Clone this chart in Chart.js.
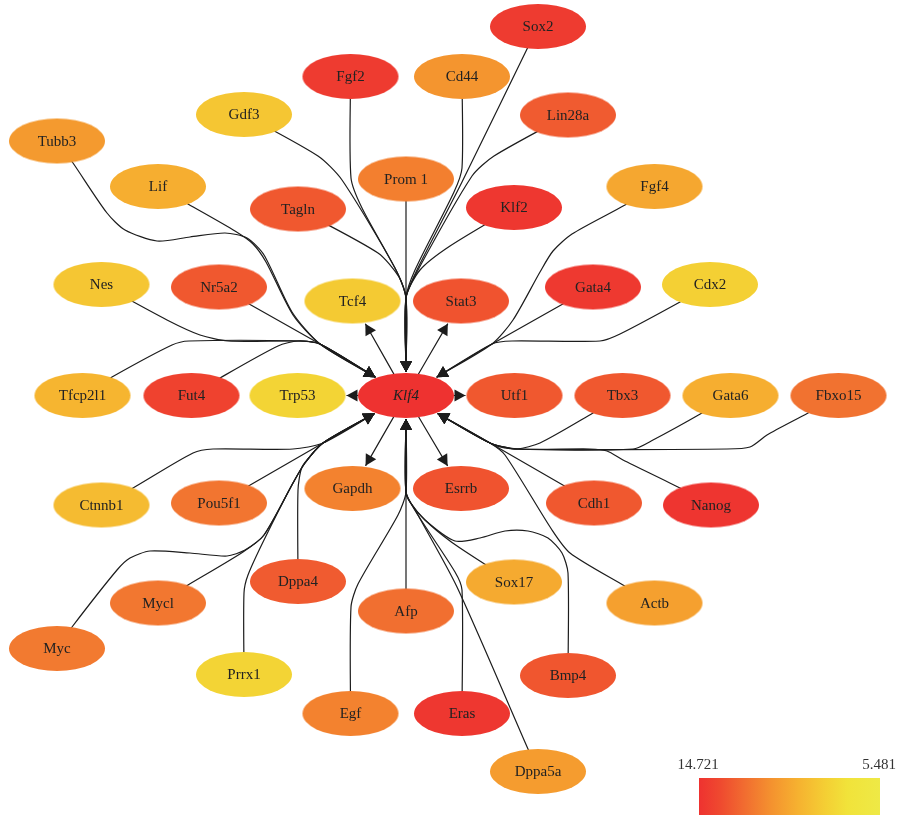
<!DOCTYPE html>
<html>
<head>
<meta charset="utf-8">
<script src="https://cdn.jsdelivr.net/npm/chart.js@4/dist/chart.umd.min.js"></script>
<style>
  html, body { margin: 0; padding: 0; background: #ffffff; }
  canvas { display: block; }
</style>
</head>
<body>
<canvas id="net" width="898" height="815"></canvas>
<script>
// ---- network data ----
const geneNames = ['Klf4', 'Sox2', 'Fgf2', 'Cd44', 'Gdf3', 'Lin28a', 'Tubb3', 'Lif', 'Prom 1', 'Tagln', 'Klf2', 'Fgf4',
  'Nes', 'Nr5a2', 'Tcf4', 'Stat3', 'Gata4', 'Cdx2', 'Tfcp2l1', 'Fut4', 'Trp53', 'Utf1', 'Tbx3', 'Gata6', 'Fbxo15',
  'Ctnnb1', 'Pou5f1', 'Gapdh', 'Esrrb', 'Cdh1', 'Nanog', 'Dppa4', 'Mycl', 'Sox17', 'Actb', 'Afp', 'Myc', 'Prrx1',
  'Bmp4', 'Egf', 'Eras', 'Dppa5a'];
// layout coordinates (x to the right, y downwards)
const geneX = [406, 538, 350.5, 462, 244, 568, 57, 158, 406, 298, 514, 654.5,
  101.5, 219, 352.5, 461, 593, 710, 82.5, 191.5, 297.5, 514.5, 622.5, 730.5, 838.5,
  101.5, 219, 352.5, 461, 594, 711, 298, 158, 514, 654.5, 406, 57, 244,
  568, 350.5, 462, 538];
const geneY = [395.5, 26.5, 76.5, 76.5, 114.5, 115, 141, 186.5, 179, 209, 207.5, 186.5,
  284.5, 287, 301, 301, 287, 284.5, 395.5, 395.5, 395.5, 395.5, 395.5, 395.5, 395.5,
  505, 503, 488.5, 488.5, 503, 505, 581.5, 603, 582, 603, 611, 648.5, 674.5,
  675.5, 713.5, 713.5, 771.5];
// degree score used for the fill colour
const geneScore = [14.721, 14.3, 14.3, 10.9, 8.7, 13.0, 10.7, 9.8, 11.7, 13.1, 14.5, 10.1,
  8.7, 13.1, 8.5, 13.3, 14.4, 8.2, 9.5, 14.0, 8.0, 13.1, 13.1, 9.8, 12.2,
  9.2, 12.1, 11.6, 13.3, 13.1, 14.6, 13.0, 12.0, 10.0, 10.4, 12.3, 11.9, 8.0,
  13.2, 11.6, 14.5, 10.6];

const hubGene = 'Klf4';
const edgeFrom = ['Prom 1', 'Fgf2', 'Gdf3', 'Tagln', 'Cd44', 'Sox2', 'Lin28a', 'Klf2',
  'Nr5a2', 'Nes', 'Tfcp2l1', 'Fut4', 'Tubb3', 'Lif',
  'Gata4', 'Cdx2', 'Fgf4',
  'Cdh1', 'Tbx3', 'Gata6', 'Fbxo15', 'Nanog', 'Actb',
  'Afp', 'Egf', 'Eras', 'Dppa5a', 'Sox17', 'Bmp4',
  'Pou5f1', 'Ctnnb1', 'Dppa4', 'Prrx1', 'Mycl', 'Myc',
  'Klf4', 'Klf4', 'Klf4', 'Klf4', 'Klf4', 'Klf4'];
const edgeTo = ['Klf4', 'Klf4', 'Klf4', 'Klf4', 'Klf4', 'Klf4', 'Klf4', 'Klf4',
  'Klf4', 'Klf4', 'Klf4', 'Klf4', 'Klf4', 'Klf4',
  'Klf4', 'Klf4', 'Klf4',
  'Klf4', 'Klf4', 'Klf4', 'Klf4', 'Klf4', 'Klf4',
  'Klf4', 'Klf4', 'Klf4', 'Klf4', 'Klf4', 'Klf4',
  'Klf4', 'Klf4', 'Klf4', 'Klf4', 'Klf4', 'Klf4',
  'Tcf4', 'Stat3', 'Trp53', 'Utf1', 'Gapdh', 'Esrrb'];
// bundled edge routing: bend points between source and target
const edgeBends = [
  [],
  [[351, 178], [362, 208], [397, 272], [406, 298]],
  [[318, 156], [342, 180], [395, 268], [406, 298]],
  [[378, 253], [399, 277], [406, 298]],
  [[462, 168], [454, 192], [415, 270], [406, 298]],
  [[462, 182], [416, 272], [406, 298]],
  [[494, 156], [472, 176], [418, 270], [406, 298]],
  [[450, 246], [420, 270], [406, 298]],
  [[320, 344]],
  [[167, 320], [200, 335], [228, 341], [300, 341], [320, 344]],
  [[112, 377], [172, 345], [189, 341], [300, 341], [320, 344]],
  [[220, 378], [278, 346], [298, 341], [320, 344]],
  [[73, 163], [107, 213], [125, 230], [157, 241], [190, 237], [225, 233], [247, 238], [264, 255], [292, 312], [320, 344]],
  [[188, 204], [235, 231], [253, 244], [266, 262], [293, 315], [320, 344]],
  [[492, 344]],
  [[680, 302], [620, 334], [600, 341], [512, 341], [492, 344]],
  [[625, 205], [572, 234], [553, 251], [540, 272], [513, 320], [492, 344]],
  [[490, 443]],
  [[593, 413], [540, 443], [517, 449], [500, 447], [490, 443]],
  [[702, 413], [653, 440], [633, 449], [517, 449], [490, 443]],
  [[808, 413], [767, 435], [750, 447], [727, 449], [517, 449], [490, 443]],
  [[680, 488], [623, 460], [607, 451], [590, 449], [517, 449], [490, 443]],
  [[623, 585], [570, 553], [552, 530], [505, 455], [490, 443]],
  [],
  [[351, 607], [358, 584], [398, 515], [406, 492]],
  [[462, 590], [455, 572], [416, 512], [406, 492]],
  [[528, 749], [457, 587], [418, 515], [406, 492]],
  [[483, 563], [450, 541], [425, 520], [410, 502], [406, 492]],
  [[568, 573], [562, 553], [548, 538], [528, 531], [505, 531], [480, 538], [455, 541], [425, 520], [410, 502], [406, 492]],
  [[323, 443]],
  [[133, 488], [193, 453], [213, 449], [293, 449], [323, 443]],
  [[298, 490], [302, 467], [313, 453], [323, 443]],
  [[244, 593], [248, 575], [264, 540], [293, 483], [305, 463], [323, 443]],
  [[188, 585], [243, 552], [264, 535], [293, 483], [305, 463], [323, 443]],
  [[72, 627], [117, 570], [130, 558], [150, 551], [190, 553], [227, 556], [245, 550], [264, 535], [293, 483], [305, 463], [323, 443]],
  [], [], [], [], [], []
];

const scoreRange = [14.721, 5.481];
const scoreLabels = ['14.721', '5.481'];

// ---- styling ----
const rampStops = [0, 0.12, 0.25, 0.4, 0.55, 0.7, 0.82, 1];
const rampColors = ['#ee3230', '#ef4a2f', '#f16c30', '#f4922f', '#f6b230', '#f4cf34', '#f1e33a', '#eee946'];
const NODE_RX = 48, NODE_RY = 22.5;
const LABEL_FONT = '15px "Liberation Serif", "DejaVu Serif", serif';
const EDGE_COLOR = '#1c1c1c';

function hexToRgb(h) {
  const n = parseInt(h.slice(1), 16);
  return [(n >> 16) & 255, (n >> 8) & 255, n & 255];
}
function rampAt(t) {
  t = Math.max(0, Math.min(1, t));
  for (let i = 1; i < rampStops.length; i++) {
    if (t <= rampStops[i]) {
      const f = (t - rampStops[i - 1]) / (rampStops[i] - rampStops[i - 1]);
      const a = hexToRgb(rampColors[i - 1]), b = hexToRgb(rampColors[i]);
      const c = a.map((v, k) => Math.round(v + (b[k] - v) * f));
      return `rgb(${c[0]},${c[1]},${c[2]})`;
    }
  }
  return rampColors[rampColors.length - 1];
}
function scoreColor(s) {
  return rampAt((scoreRange[0] - s) / (scoreRange[0] - scoreRange[1]));
}

// ellipse sprite for each gene, used as the point style
function ellipseSprite(color) {
  const c = document.createElement('canvas');
  c.width = 2 * NODE_RX + 4;
  c.height = 2 * NODE_RY + 4;
  const g = c.getContext('2d');
  g.fillStyle = color;
  g.beginPath();
  g.ellipse(c.width / 2, c.height / 2, NODE_RX, NODE_RY, 0, 0, Math.PI * 2);
  g.fill();
  return c;
}

const idx = name => geneNames.indexOf(name);

// point where a segment heading to a node centre meets the node's outline
function outlineHit(from, to) {
  const dx = to[0] - from[0], dy = to[1] - from[1];
  const u = 1 / Math.sqrt((dx / (NODE_RX + 1)) ** 2 + (dy / (NODE_RY + 1)) ** 2);
  return [to[0] - dx * u, to[1] - dy * u];
}

const edgeDatasets = edgeFrom.map((src, e) => {
  const s = idx(src), t = idx(edgeTo[e]);
  const pts = [[geneX[s], geneY[s]], ...edgeBends[e]];
  const tip = outlineHit(pts[pts.length - 1], [geneX[t], geneY[t]]);
  pts.push(tip);
  return {
    label: src + ' → ' + edgeTo[e],
    data: pts.map(p => ({ x: p[0], y: p[1] })),
    showLine: true,
    tension: 0.25,
    borderColor: EDGE_COLOR,
    borderWidth: 1.2,
    pointRadius: 0,
    pointHoverRadius: 0,
    fill: false,
    order: 1,
    isEdge: true
  };
});

const nodeDataset = {
  label: 'genes',
  data: geneNames.map((n, i) => ({ x: geneX[i], y: geneY[i] })),
  pointStyle: geneScore.map(s => ellipseSprite(scoreColor(s))),
  pointRadius: 10,
  pointHoverRadius: 10,
  order: 0,
  isEdge: false
};

// arrowheads at the end of each edge
const arrowPlugin = {
  id: 'arrowheads',
  afterDatasetsDraw(chart) {
    const ctx = chart.ctx;
    ctx.save();
    ctx.fillStyle = EDGE_COLOR;
    chart.data.datasets.forEach((ds, di) => {
      if (!ds.isEdge) return;
      const pts = chart.getDatasetMeta(di).data;
      const a = pts[pts.length - 2], b = pts[pts.length - 1];
      const ang = Math.atan2(b.y - a.y, b.x - a.x);
      const L = 11, W = 6;
      ctx.save();
      ctx.translate(b.x, b.y);
      ctx.rotate(ang);
      ctx.beginPath();
      ctx.moveTo(0, 0);
      ctx.lineTo(-L, -W);
      ctx.lineTo(-L, W);
      ctx.closePath();
      ctx.fill();
      ctx.restore();
    });
    ctx.restore();
  }
};

// gene names on the ellipses
const labelPlugin = {
  id: 'geneLabels',
  afterDatasetsDraw(chart) {
    const ctx = chart.ctx;
    const di = chart.data.datasets.indexOf(nodeDataset);
    const pts = chart.getDatasetMeta(di).data;
    ctx.save();
    ctx.fillStyle = '#222222';
    ctx.textAlign = 'center';
    ctx.textBaseline = 'middle';
    pts.forEach((p, i) => {
      ctx.font = (geneNames[i] === hubGene ? 'italic ' : '') + LABEL_FONT;
      ctx.fillText(geneNames[i], p.x, p.y + 1);
    });
    ctx.restore();
  }
};

// colour key in the lower right corner
const keyPlugin = {
  id: 'colourKey',
  afterDraw(chart) {
    const ctx = chart.ctx;
    const x0 = 699, x1 = 880, y0 = 778, y1 = 815;
    const grad = ctx.createLinearGradient(x0, 0, x1, 0);
    rampStops.forEach((s, i) => grad.addColorStop(s, rampColors[i]));
    ctx.save();
    ctx.fillStyle = grad;
    ctx.fillRect(x0, y0, x1 - x0, y1 - y0);
    ctx.fillStyle = '#333333';
    ctx.font = '15px "Liberation Serif", "DejaVu Serif", serif';
    ctx.textBaseline = 'alphabetic';
    ctx.textAlign = 'center';
    ctx.fillText(scoreLabels[0], 698, 769);
    ctx.textAlign = 'right';
    ctx.fillText(scoreLabels[1], 896, 769);
    ctx.restore();
  }
};

new Chart(document.getElementById('net'), {
  type: 'scatter',
  data: { datasets: [nodeDataset, ...edgeDatasets] },
  options: {
    responsive: false,
    devicePixelRatio: 1,
    animation: false,
    layout: { padding: 0, autoPadding: false },
    plugins: { legend: { display: false }, tooltip: { enabled: false } },
    events: [],
    scales: {
      x: { type: 'linear', min: 0, max: 898, display: false },
      y: { type: 'linear', min: 0, max: 815, reverse: true, display: false }
    }
  },
  plugins: [arrowPlugin, labelPlugin, keyPlugin]
});
</script>
</body>
</html>
